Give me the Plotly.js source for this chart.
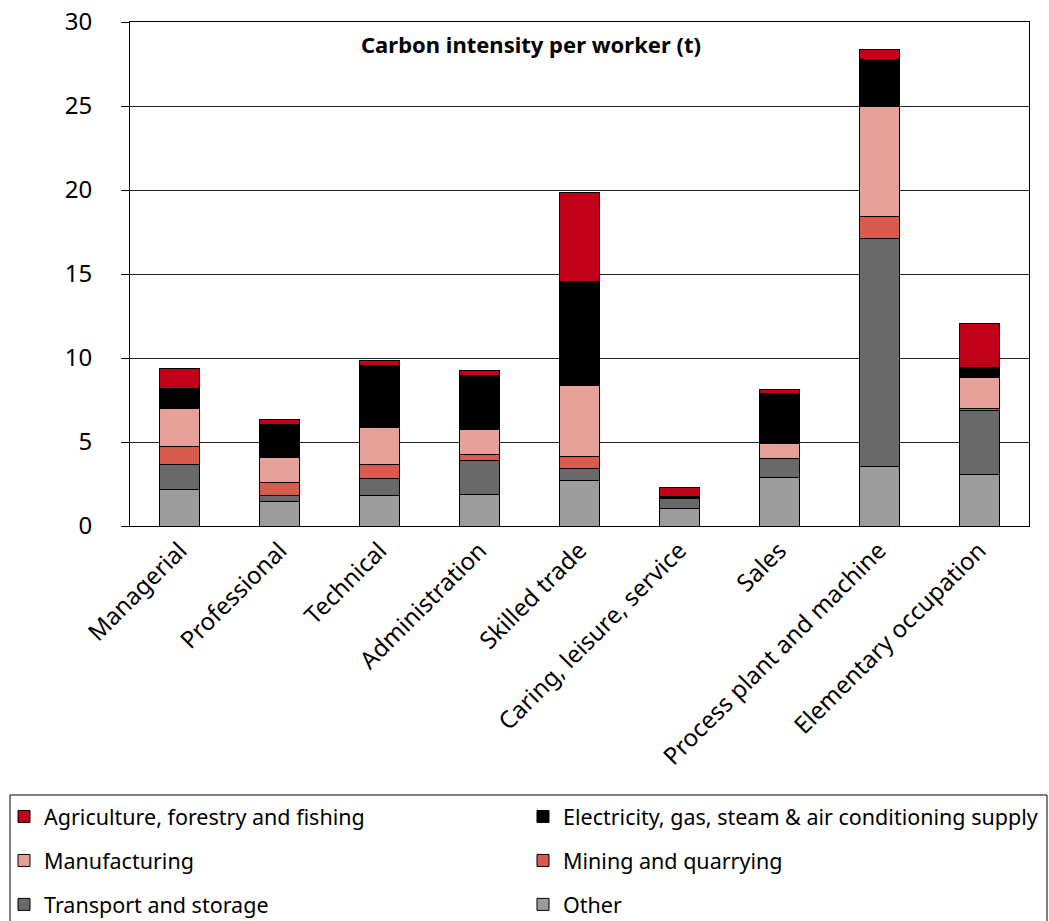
<!DOCTYPE html>
<html>
<head>
<meta charset="utf-8">
<script src="https://cdn.plot.ly/plotly-3.0.1.min.js"></script>
<style>html,body{margin:0;padding:0;background:#fff;}#chart{width:1049px;height:921px;}</style>
</head>
<body>
<div id="chart"></div>
<script>
const categories = ["Managerial", "Professional", "Technical", "Administration", "Skilled trade", "Caring, leisure, service", "Sales", "Process plant and machine", "Elementary occupation"];
const other       = [2.20, 1.47, 1.80, 1.89, 2.68, 1.05, 2.88, 3.55, 3.04];
const transport   = [1.49, 0.33, 1.00, 2.02, 0.75, 0.60, 1.15, 13.59, 3.85];
const mining      = [1.03, 0.80, 0.89, 0.32, 0.68, 0.00, 0.00, 1.31, 0.08];
const manufacturing = [2.28, 1.49, 2.16, 1.54, 4.24, 0.03, 0.87, 6.55, 1.84];
const electricity = [1.19, 1.96, 3.73, 3.18, 6.23, 0.10, 2.96, 2.78, 0.65];
const agriculture = [1.20, 0.30, 0.30, 0.32, 5.26, 0.53, 0.27, 0.59, 2.62];

const seriesNames = ["Other", "Transport and storage", "Mining and quarrying", "Manufacturing", "Electricity, gas, steam & air conditioning supply", "Agriculture, forestry and fishing"];
const seriesValues = [other, transport, mining, manufacturing, electricity, agriculture];
const seriesColors = ["#9c9c9c", "#696969", "#d75b4e", "#e6a09a", "#000000", "#c00018"];
// legend column and row for each series
const seriesLegend = ["legend2", "legend", "legend2", "legend", "legend2", "legend"];
const seriesRank   = [3, 3, 2, 2, 1, 1];

const traces = seriesNames.map((n, i) => ({
  type: "bar",
  name: n,
  x: categories,
  y: seriesValues[i],
  legend: seriesLegend[i],
  legendgroup: "g" + i,
  legendrank: seriesRank[i],
  marker: {color: seriesColors[i], line: {color: "#000", width: 1}},
  hoverinfo: "x+y+name"
}));

const font = "Noto Sans, Open Sans, sans-serif";
const W = 1049, H = 921, L = 130, R = 20, T = 22, B = 395;
const pw = W - L - R, ph = H - T - B;
const px = x => (x - L) / pw;          // pixel -> paper x
const py = y => (H - B - y) / ph;      // pixel -> paper y

const legendCommon = {
  orientation: "v",
  traceorder: "grouped",
  yanchor: "top",
  bgcolor: "rgba(0,0,0,0)",
  borderwidth: 0,
  font: {size: 21.5, family: font},
  itemwidth: 30,
  tracegroupgap: 13
};

const layout = {
  width: W, height: H,
  margin: {l: L, r: R, t: T, b: B, autoexpand: false},
  barmode: "stack",
  bargap: 0.6,
  paper_bgcolor: "#fff",
  plot_bgcolor: "#fff",
  font: {family: font, color: "#000", size: 21},
  xaxis: {
    type: "category",
    tickangle: -45,
    showline: true, linecolor: "#000", linewidth: 1, mirror: true,
    ticks: "", tickfont: {size: 24}
  },
  yaxis: {
    range: [0, 30], dtick: 5,
    showline: true, linecolor: "#000", linewidth: 1, mirror: true,
    ticks: "outside", ticklen: 8, tickcolor: "#000",
    ticklabelstandoff: 24,
    showgrid: true, gridcolor: "#222", gridwidth: 1,
    zeroline: false, tickfont: {size: 24}
  },
  annotations: [{
    text: "<b>Carbon intensity per worker (t)</b>",
    xref: "paper", yref: "paper", x: px(531), y: py(44),
    xanchor: "center", yanchor: "middle", showarrow: false,
    font: {size: 22, family: font}
  }],
  shapes: [{
    type: "rect", xref: "paper", yref: "paper",
    x0: px(10), x1: px(1047), y0: py(795), y1: py(930),
    line: {color: "#000", width: 1}, fillcolor: "rgba(0,0,0,0)"
  }],
  showlegend: true,
  legend: Object.assign({}, legendCommon, {x: px(4), xanchor: "left", y: py(796)}),
  legend2: Object.assign({}, legendCommon, {x: px(523), xanchor: "left", y: py(796)})
};

Plotly.newPlot("chart", traces, layout, {displayModeBar: false, staticPlot: true});
</script>
</body>
</html>
